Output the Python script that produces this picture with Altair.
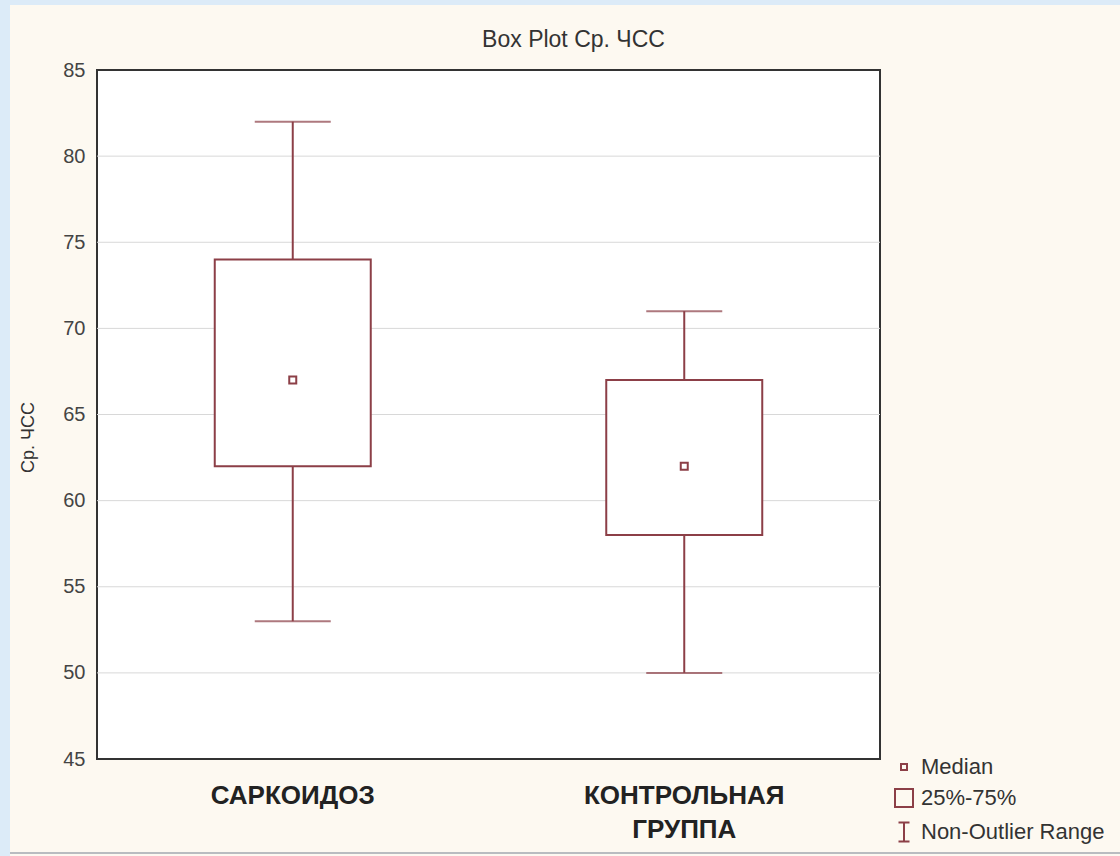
import altair as alt
import pandas as pd

# ---- data ----
groups = ["САРКОИДОЗ", "КОНТРОЛЬНАЯ ГРУППА"]
whisker_low = [53, 50]
q1 = [62, 58]
median = [67, 62]
q3 = [74, 67]
whisker_high = [82, 71]
y_ticks = [45, 50, 55, 60, 65, 70, 75, 80, 85]
legend_items = ["Median", "25%-75%", "Non-Outlier Range"]

W, H = 783, 689
PAD_L, PAD_T = 97, 70
CANVAS_W, CANVAS_H = 1120, 856
MAROON = "#8c3f47"
FONT = "Liberation Sans"

df = pd.DataFrame({
    "group": groups, "low": whisker_low, "q1": q1,
    "median": median, "q3": q3, "high": whisker_high,
})
grid_df = pd.DataFrame({"v": y_ticks[1:-1]})
legend_df = pd.DataFrame({"item": legend_items})

x_enc = alt.X("group:N", sort=groups, title=None,
              scale=alt.Scale(paddingInner=0, paddingOuter=0),
              axis=alt.Axis(labelExpr="split(datum.label, ' ')", labelFont=FONT,
                            labelFontSize=26, labelFontWeight="bold", labelColor="#222",
                            labelAngle=0, labelBaseline="top", labelLineHeight=34,
                            labelPadding=23, labelLimit=0, ticks=False, domain=False,
                            grid=False))
y_scale = alt.Scale(domain=[45, 85], nice=False, zero=False)
y_axis = alt.Axis(values=y_ticks, title="Ср. ЧСС", titleFont=FONT, titleFontSize=18,
                  titleFontWeight="normal", titleColor="#333", titleX=-60, titleY=367,
                  labelFont=FONT, labelFontSize=20, labelColor="#444", labelPadding=12,
                  ticks=False, domain=False, grid=False)

base = alt.Chart(df)

# decorative frame of the screenshot
one = pd.DataFrame({"k": [0]})
left_strip = alt.Chart(one).mark_rect(color="#dcebf8", clip=False).encode(
    x=alt.value(-PAD_L), x2=alt.value(-PAD_L + 10),
    y=alt.value(-PAD_T), y2=alt.value(CANVAS_H - PAD_T))
top_strip = alt.Chart(one).mark_rect(color="#dcebf8", clip=False).encode(
    x=alt.value(-PAD_L), x2=alt.value(CANVAS_W - PAD_L),
    y=alt.value(-PAD_T), y2=alt.value(-PAD_T + 5))
bottom_line = alt.Chart(one).mark_rule(color="#b9bcc0", strokeWidth=2, clip=False).encode(
    x=alt.value(-PAD_L + 10), x2=alt.value(CANVAS_W - PAD_L),
    y=alt.value(853 - PAD_T))

grid = alt.Chart(grid_df).mark_rule(color="#d8d8d8", strokeWidth=1).encode(
    y=alt.Y("v:Q", scale=y_scale, axis=y_axis))

whisk_lo = base.mark_rule(color=MAROON, strokeWidth=2).encode(
    x=x_enc, y=alt.Y("low:Q", scale=y_scale, axis=y_axis), y2="q1:Q")
whisk_hi = base.mark_rule(color=MAROON, strokeWidth=2).encode(
    x=x_enc, y=alt.Y("q3:Q", scale=y_scale), y2="high:Q")
cap_lo = base.mark_tick(color=MAROON, size=76, thickness=2).encode(
    x=x_enc, y=alt.Y("low:Q", scale=y_scale))
cap_hi = base.mark_tick(color=MAROON, size=76, thickness=2).encode(
    x=x_enc, y=alt.Y("high:Q", scale=y_scale))
box = base.mark_bar(size=156, fill="white", stroke=MAROON, strokeWidth=2).encode(
    x=x_enc, y=alt.Y("q1:Q", scale=y_scale), y2="q3:Q")
med = base.mark_point(shape="square", size=49, filled=False, color=MAROON,
                      strokeWidth=2, opacity=1).encode(
    x=x_enc, y=alt.Y("median:Q", scale=y_scale))

legend_shapes = [
    "M-0.3,-0.3H0.3V0.3H-0.3Z",
    "M-0.9,-0.9H0.9V0.9H-0.9Z",
    "M-0.55,-0.95H0.55M0,-0.95V0.95M-0.55,0.95H0.55",
]
legend_layer = alt.Chart(legend_df).mark_point(opacity=0, filled=False, size=400).encode(
    x=alt.value(0), y=alt.value(0),
    shape=alt.Shape("item:N", sort=legend_items,
                    scale=alt.Scale(domain=legend_items, range=legend_shapes),
                    legend=alt.Legend(title=None, orient="none", legendX=796, legendY=686,
                                      symbolSize=400, symbolStrokeColor=MAROON,
                                      symbolFillColor="transparent", symbolStrokeWidth=2,
                                      symbolOpacity=1, labelFont=FONT, labelFontSize=22,
                                      labelColor="#333", labelOffset=6, rowPadding=7,
                                      labelLimit=0)))

chart = alt.layer(
    grid, whisk_lo, whisk_hi, cap_lo, cap_hi, box, med, legend_layer,
    left_strip, top_strip, bottom_line,
).properties(
    width=W, height=H,
    autosize=alt.AutoSizeParams(type="none"),
    padding={"left": PAD_L, "top": PAD_T,
             "right": CANVAS_W - PAD_L - W, "bottom": CANVAS_H - PAD_T - H},
    background="#fdf9f1",
    title=alt.TitleParams("Box Plot Ср. ЧСС", font=FONT, fontSize=23, fontWeight="normal",
                          color="#333", anchor="middle", frame="group", dx=85, offset=-52),
).configure_view(fill="white", stroke="#333", strokeWidth=2)

chart.save("out.html", embed_options={"renderer": "svg", "actions": False})
